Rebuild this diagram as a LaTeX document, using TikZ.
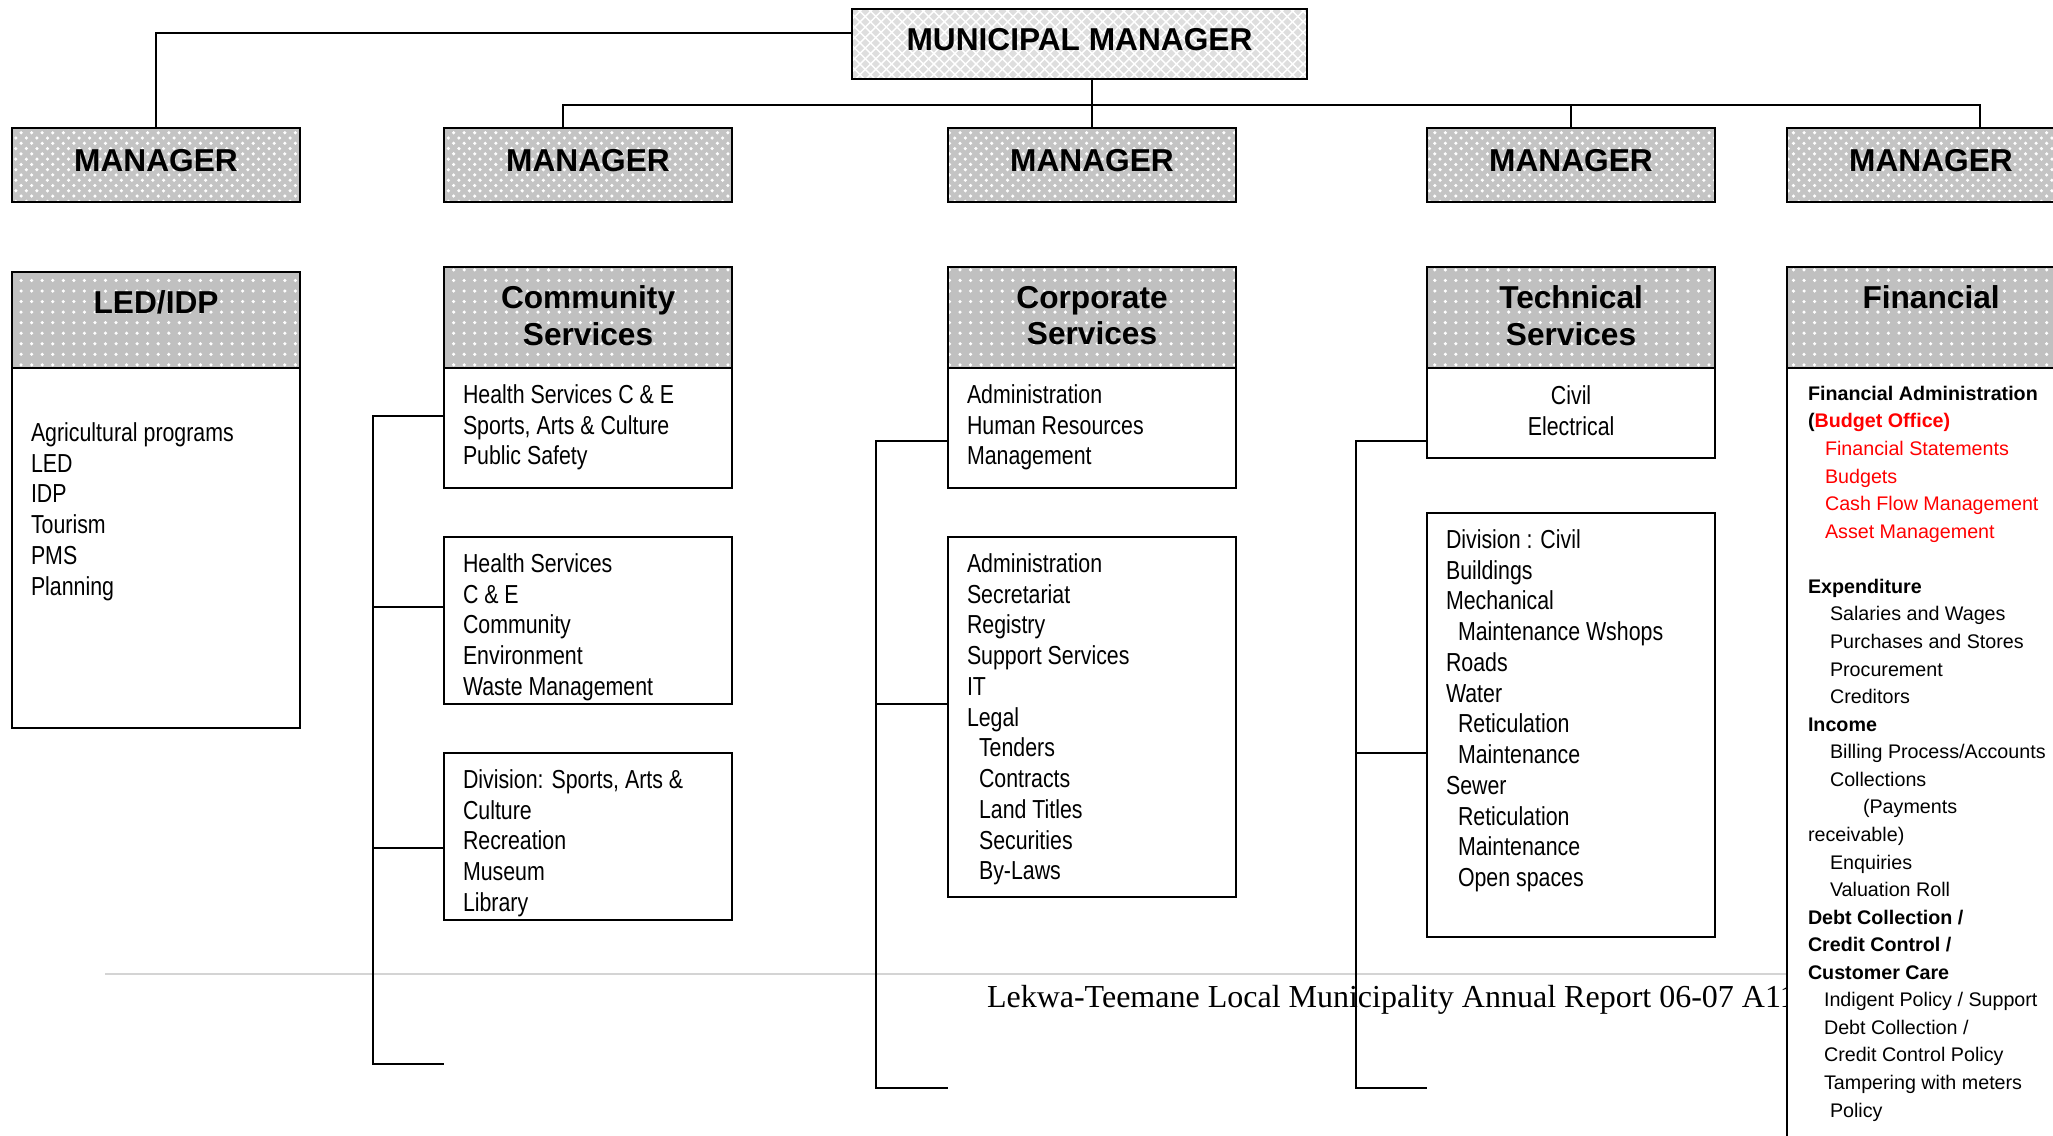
\documentclass[tikz,border=0pt]{standalone}
\usepackage{fontspec}
\setmainfont{Liberation Sans}
\newfontfamily\narrowfont{Liberation Sans}[FakeStretch=0.82]
\newfontfamily\footfont{Liberation Serif}
\usepackage{xcolor}
\usetikzlibrary{patterns}
\usetikzlibrary{positioning}
\definecolor{hdrgray}{RGB}{192,192,192}
\definecolor{mgrgray}{RGB}{196,196,196}
\definecolor{mmgray}{RGB}{222,222,222}
\definecolor{footgray}{RGB}{212,212,212}
\definecolor{finred}{RGB}{255,0,0}
\newcommand{\subln}[1]{\hspace*{0.12cm}#1}
\newcommand{\fsub}[1]{\hspace*{0.22cm}#1}
\newcommand{\fred}[1]{\hspace*{0.17cm}\textcolor{finred}{#1}}

\begin{document}
\begin{tikzpicture}[x=0.01cm,y=-0.01cm,
   every node/.style={inner sep=0pt,outer sep=0pt},
   conn/.style={draw=black,line width=0.6pt},
   mm/.style={draw=black,line width=0.7pt,minimum width=4.55cm,minimum height=0.70cm,
              preaction={fill=mmgray},pattern=crosshatch,pattern color=white,text depth=0.09cm,
              font=\bfseries\fontsize{9pt}{10pt}\selectfont},
   mgr/.style={draw=black,line width=0.7pt,minimum width=2.88cm,minimum height=0.74cm,
              preaction={fill=mgrgray},pattern=crosshatch dots,pattern color=white,text depth=0.1cm,
              font=\bfseries\fontsize{9pt}{10pt}\selectfont},
   hdrbox/.style={draw=black,line width=0.7pt,anchor=north west,minimum width=2.88cm,
              minimum height=1.01cm,preaction={fill=hdrgray},pattern=dots,pattern color=white},
   hdrtxt/.style={align=center,font=\bfseries\fontsize{9pt}{10.44pt}\selectfont},
   bodybox/.style={draw=black,line width=0.7pt,fill=white,anchor=north west,minimum width=2.88cm},
   bodytxt/.style={align=left,font=\narrowfont\fontsize{7.4pt}{8.74pt}\selectfont},
   fintxt/.style={align=left,font=\fontsize{5.6pt}{7.84pt}\selectfont}]

 \useasboundingbox (0,0) rectangle (2053,1135);
 \clip (0,0) rectangle (2053,1135);

 \draw[draw=footgray,line width=0.6pt] (105,974) -- (2053,974);
 \node[anchor=base west,font=\footfont\fontsize{9.1pt}{11pt}\selectfont] (foot) at (987,1007)
      {Lekwa-Teemane Local Municipality Annual Report 06-07 A11};

 \draw (1079.5,44) node[mm] (mm) {MUNICIPAL MANAGER};

 \draw (156,165)  node[mgr] (mled) {MANAGER};
 \draw (588,165)  node[mgr] (mcom) {MANAGER};
 \draw (1092,165) node[mgr] (mcor) {MANAGER};
 \draw (1571,165) node[mgr] (mtec) {MANAGER};
 \draw (1931,165) node[mgr] (mfin) {MANAGER};

 \coordinate (bus) at (1092,105);
 \draw[conn] ([yshift=0.11cm]mm.west) -| (mled.north);
 \draw[conn] ([xshift=-0.25cm]mcom.north) |- (bus) -| ([xshift=0.49cm]mfin.north);
 \draw[conn] (mcor.north) -- (mcor.north |- mm.south);
 \draw[conn] (mtec.north) -- (mtec.north |- bus);

 \draw (12,272)   node[hdrbox,minimum height=0.96cm] (hled) {};
 \draw (444,267)  node[hdrbox] (hcom) {};
 \draw (948,267)  node[hdrbox] (hcor) {};
 \draw (1427,267) node[hdrbox] (htec) {};
 \draw (1787,267) node[hdrbox] (hfin) {};

 \node[hdrtxt,below=0.19cm of hled.north] (tled) {LED/IDP};
 \node[hdrtxt,below=0.19cm of hcom.north] (tcom) {Community\\Services};
 \node[hdrtxt,below=0.19cm of hcor.north] (tcor) {Corporate\\Services};
 \node[hdrtxt,below=0.19cm of htec.north] (ttec) {Technical\\Services};
 \node[hdrtxt,below=0.19cm of hfin.north] (tfin) {Financial};

 \draw (12,368)   node[bodybox,minimum height=3.60cm] (bled) {};
 \draw (444,368)  node[bodybox,minimum height=1.20cm] (bcom1) {};
 \draw (444,537)  node[bodybox,minimum height=1.67cm] (bcom2) {};
 \draw (444,753)  node[bodybox,minimum height=1.67cm] (bcom3) {};
 \draw (948,368)  node[bodybox,minimum height=1.20cm] (bcor1) {};
 \draw (948,537)  node[bodybox,minimum height=3.60cm] (bcor2) {};
 \draw (1427,368) node[bodybox,minimum height=0.90cm] (btec1) {};
 \draw (1427,513) node[bodybox,minimum height=4.24cm] (btec2) {};
 \draw (1787,368) node[bodybox,minimum height=8.00cm] (bfin) {};

 \node[bodytxt,below right=0.545cm and 0.19cm of bled.north west] (tbled)
      {Agricultural programs\\LED\\IDP\\Tourism\\PMS\\Planning};
 \node[bodytxt,below right=0.165cm and 0.19cm of bcom1.north west] (tbcom1)
      {Health Services C \& E\\Sports, Arts \& Culture\\Public Safety};
 \node[bodytxt,below right=0.165cm and 0.19cm of bcom2.north west] (tbcom2)
      {Health Services\\C \& E\\Community\\Environment\\Waste Management};
 \node[bodytxt,below right=0.165cm and 0.19cm of bcom3.north west] (tbcom3)
      {Division: Sports, Arts \&\\Culture\\Recreation\\Museum\\Library};
 \node[bodytxt,below right=0.165cm and 0.19cm of bcor1.north west] (tbcor1)
      {Administration\\Human Resources\\Management};
 \node[bodytxt,below right=0.165cm and 0.19cm of bcor2.north west] (tbcor2)
      {Administration\\Secretariat\\Registry\\Support Services\\IT\\Legal\\
       \subln{Tenders}\\\subln{Contracts}\\\subln{Land Titles}\\\subln{Securities}\\\subln{By-Laws}};
 \node[bodytxt,align=center,below=0.175cm of btec1.north] (tbtec1) {Civil\\Electrical};
 \node[bodytxt,below right=0.165cm and 0.19cm of btec2.north west] (tbtec2)
      {Division : Civil\\Buildings\\Mechanical\\\subln{Maintenance Wshops}\\Roads\\Water\\
       \subln{Reticulation}\\\subln{Maintenance}\\Sewer\\\subln{Reticulation}\\
       \subln{Maintenance}\\\subln{Open spaces}};
 \node[fintxt,below right=0.18cm and 0.21cm of bfin.north west] (tbfin)
      {\textbf{Financial Administration}\\
       \textbf{(\textcolor{finred}{Budget Office)}}\\
       \fred{Financial Statements}\\\fred{Budgets}\\
       \fred{Cash Flow Management}\\\fred{Asset Management}\\
       ~\\
       \textbf{Expenditure}\\
       \fsub{Salaries and Wages}\\\fsub{Purchases and Stores}\\
       \fsub{Procurement}\\\fsub{Creditors}\\
       \textbf{Income}\\
       \fsub{Billing Process/Accounts}\\\fsub{Collections}\\
       \hspace*{0.55cm}(Payments\\receivable)\\
       \fsub{Enquiries}\\\fsub{Valuation Roll}\\
       \textbf{Debt Collection /}\\\textbf{Credit Control /}\\\textbf{Customer Care}\\
       \hspace*{0.16cm}Indigent Policy / Support\\
       \hspace*{0.16cm}Debt Collection /\\
       \hspace*{0.16cm}Credit Control Policy\\
       \hspace*{0.16cm}Tampering with meters\\
       \fsub{Policy}};

 \coordinate (jcom) at (373,1064);
 \coordinate (ecom) at (444,1064);
 \draw[conn] (bcom1.west |- 0,416) -| (jcom) -- (ecom);
 \draw[conn] (bcom2.west |- 0,607) -- (jcom |- 0,607);
 \draw[conn] (bcom3.west |- 0,848) -- (jcom |- 0,848);

 \coordinate (jcor) at (876,1088);
 \coordinate (ecor) at (948,1088);
 \draw[conn] (bcor1.west |- 0,441) -| (jcor) -- (ecor);
 \draw[conn] (bcor2.west |- 0,704) -- (jcor |- 0,704);

 \coordinate (jtec) at (1356,1088);
 \coordinate (etec) at (1427,1088);
 \draw[conn] (btec1.west |- 0,441) -| (jtec) -- (etec);
 \draw[conn] (btec2.west |- 0,753) -- (jtec |- 0,753);

\end{tikzpicture}
\end{document}
